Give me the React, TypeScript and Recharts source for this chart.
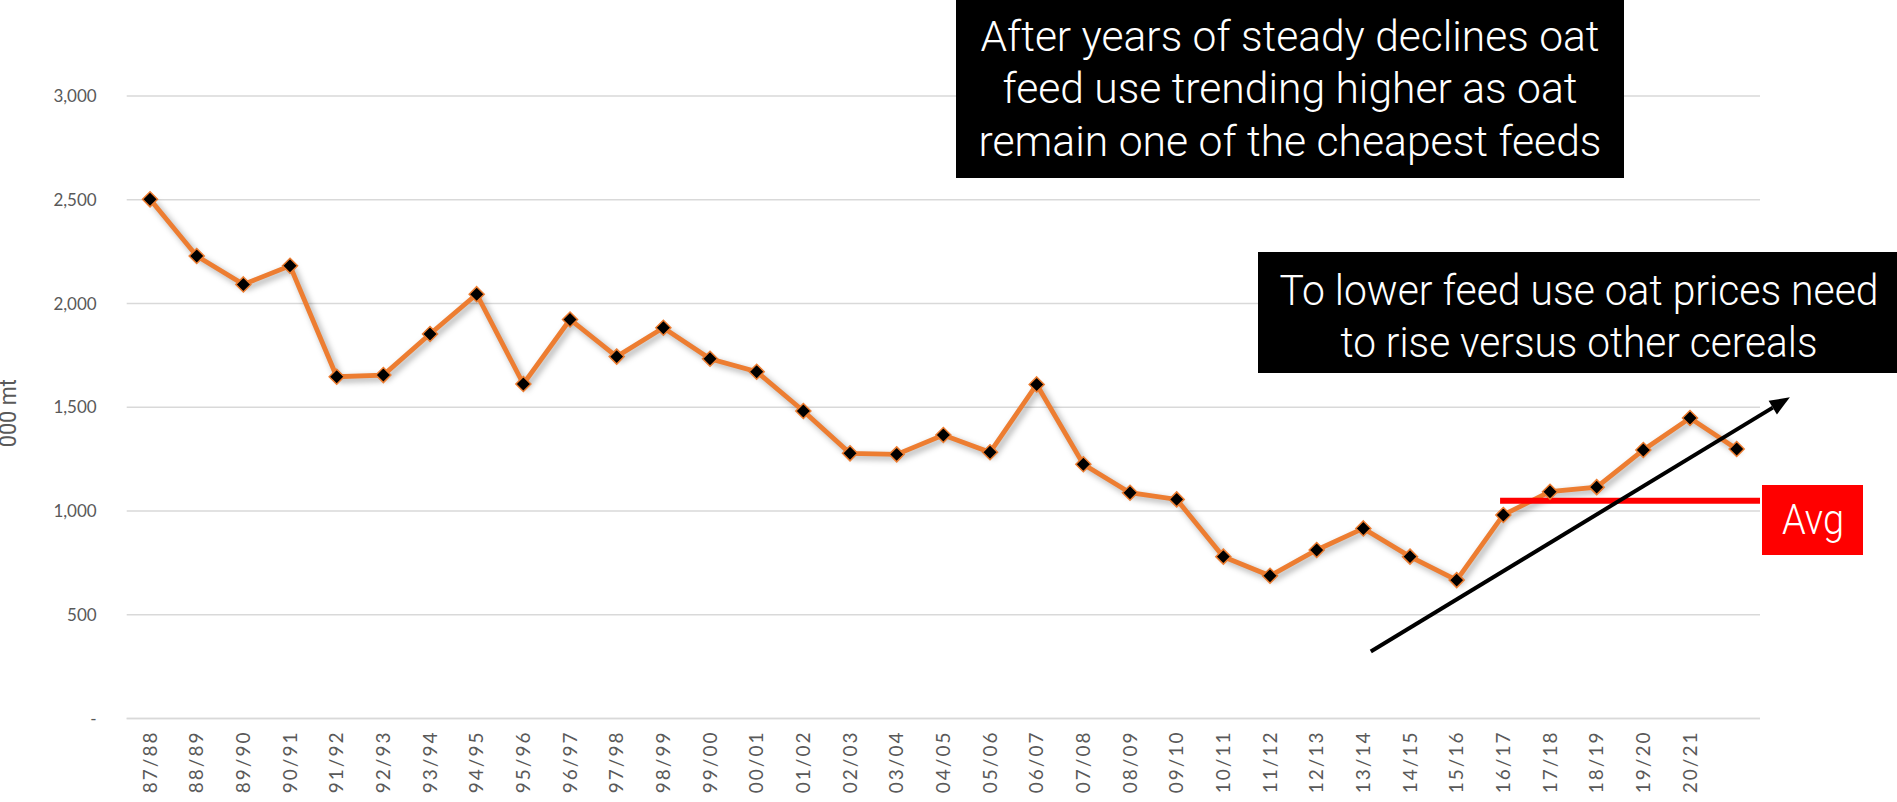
import React from "react";
import {
  LineChart,
  Line,
  XAxis,
  YAxis,
  CartesianGrid,
  ReferenceLine,
} from "recharts";

// marketing years; the last point has no label on the axis
const categories = [
  "87/88", "88/89", "89/90", "90/91", "91/92", "92/93", "93/94", "94/95",
  "95/96", "96/97", "97/98", "98/99", "99/00", "00/01", "01/02", "02/03",
  "03/04", "04/05", "05/06", "06/07", "07/08", "08/09", "09/10", "10/11",
  "11/12", "12/13", "13/14", "14/15", "15/16", "16/17", "17/18", "18/19",
  "19/20", "20/21", "",
];

// oat feed use, '000 mt
const feedUse = [
  2502, 2229, 2092, 2182, 1647, 1655, 1853, 2045, 1612, 1923, 1744, 1883,
  1734, 1671, 1482, 1278, 1273, 1366, 1283, 1610, 1225, 1088, 1056, 780,
  688, 812, 916, 780, 667, 981, 1093, 1115, 1294, 1448, 1299,
];

const yTicks = [0, 500, 1000, 1500, 2000, 2500, 3000];

const avgValue = 1050;
const avgFrom = 28.93;
const trendStart = { x: 26.16, y: 323 };
const trendEnd = { x: 35.14, y: 1548 };

const noteTop = [
  "After years of steady declines oat",
  "feed use trending higher as oat",
  "remain one of the cheapest feeds",
];
const noteRight = ["To lower feed use oat prices need", "to rise versus other cereals"];

const ORANGE = "#ED7D31";
const GRID = "#D9D9D9";
const AXIS_TEXT = "#595959";
const NARROW = 'Roboto, "Noto Sans", sans-serif';
const TICK_FONT = 'Lato, "Open Sans", sans-serif';

const data = categories.map((label, idx) => ({ idx, label, value: feedUse[idx] }));

function XTick({ x, y, payload }: any) {
  return (
    <text
      x={x}
      y={y}
      transform={`rotate(-90 ${x} ${y})`}
      textAnchor="end"
      dy="0.35em"
      fill={AXIS_TEXT}
      fontSize={19}
      fontFamily={TICK_FONT}
      letterSpacing={2}
    >
      {categories[payload.value]}
    </text>
  );
}

function Diamond({ cx, cy, index }: any) {
  if (cx == null || cy == null) return null;
  const r = 7.5;
  return (
    <path
      key={index}
      d={`M${cx},${cy - r} L${cx + r},${cy} L${cx},${cy + r} L${cx - r},${cy} Z`}
      fill="#000"
      stroke={ORANGE}
      strokeWidth={1.5}
    />
  );
}

function Arrow({ x1, y1, x2, y2 }: any) {
  const ang = Math.atan2(y2 - y1, x2 - x1);
  const len = 20;
  const half = 8;
  const bx = x2 - len * Math.cos(ang);
  const by = y2 - len * Math.sin(ang);
  const px = -Math.sin(ang) * half;
  const py = Math.cos(ang) * half;
  return (
    <g>
      <line x1={x1} y1={y1} x2={bx} y2={by} stroke="#000" strokeWidth={4} />
      <polygon
        points={`${x2},${y2} ${bx + px},${by + py} ${bx - px},${by - py}`}
        fill="#000"
      />
    </g>
  );
}

// callout text, squeezed to the narrow face of the original
function Callout({ lines, cx, baselines, widths, size }: any) {
  return (
    <>
      {lines.map((t: string, i: number) => (
        <text
          key={t}
          x={cx}
          y={baselines[i]}
          textAnchor="middle"
          fill="#fff"
          fontSize={size}
          fontWeight={300}
          fontFamily={NARROW}
          textLength={widths[i]}
          lengthAdjust="spacingAndGlyphs"
        >
          {t}
        </text>
      ))}
    </>
  );
}

export default function App() {
  return (
    <div style={{ position: "absolute", left: 0, top: 0, width: 1897, height: 802, background: "#fff" }}>
      <style>{`.feed-line { filter: drop-shadow(3px 3px 3px rgba(0,0,0,0.35)); }`}</style>
      <LineChart
        width={1897}
        height={802}
        data={data}
        margin={{ top: 96, right: 137, bottom: 3.5, left: 0 }}
      >
        <CartesianGrid horizontal vertical={false} stroke={GRID} strokeWidth={1.3} />
        <XAxis
          type="number"
          dataKey="idx"
          domain={[-0.5, categories.length - 0.5]}
          ticks={categories.map((_, i) => i)}
          interval={0}
          height={80}
          tickLine={false}
          tickSize={0}
          tickMargin={12}
          axisLine={{ stroke: GRID, strokeWidth: 1.3 }}
          tick={<XTick />}
        />
        <YAxis
          type="number"
          domain={[0, 3000]}
          ticks={yTicks}
          width={126.7}
          axisLine={false}
          tickLine={false}
          tickSize={0}
          tickMargin={30}
          tick={{ fill: AXIS_TEXT, fontSize: 17, fontFamily: TICK_FONT }}
          tickFormatter={(v: any) => (Number(v) === 0 ? "-" : Number(v).toLocaleString("en-US"))}
          label={{
            content: ({ viewBox }: any) => {
              const cy = viewBox.y + viewBox.height / 2 + 6;
              return (
                <text
                  x={16}
                  y={cy}
                  transform={`rotate(-90 16 ${cy})`}
                  textAnchor="middle"
                  fill={AXIS_TEXT}
                  fontSize={24}
                  fontFamily={NARROW}
                  textLength={68}
                  lengthAdjust="spacingAndGlyphs"
                >
                  000 mt
                </text>
              );
            },
          }}
        />
        <Line
          className="feed-line"
          type="linear"
          dataKey="value"
          stroke={ORANGE}
          strokeWidth={4.8}
          dot={<Diamond />}
          activeDot={false}
          isAnimationActive={false}
        />
        <ReferenceLine
          segment={[
            { x: avgFrom, y: avgValue },
            { x: categories.length - 0.5, y: avgValue },
          ]}
          stroke="#FF0000"
          strokeWidth={6}
          ifOverflow="visible"
        />
        <ReferenceLine
          segment={[trendStart, trendEnd]}
          ifOverflow="visible"
          shape={(p: any) => <Arrow {...p} />}
        />
      </LineChart>

      <svg
        width={1897}
        height={802}
        style={{ position: "absolute", left: 0, top: 0, pointerEvents: "none" }}
      >
        <rect x={956} y={0} width={668} height={178} fill="#000" />
        <Callout lines={noteTop} cx={1290} baselines={[51, 103, 156]} widths={[619, 575, 623]} size={43} />
        <rect x={1258} y={252} width={639} height={121} fill="#000" />
        <Callout lines={noteRight} cx={1579} baselines={[305, 357]} widths={[599, 477]} size={43} />
        <rect x={1762} y={485} width={101} height={70} fill="#FF0000" />
        <Callout lines={["Avg"]} cx={1813} baselines={[534]} widths={[62]} size={42} />
      </svg>
    </div>
  );
}
